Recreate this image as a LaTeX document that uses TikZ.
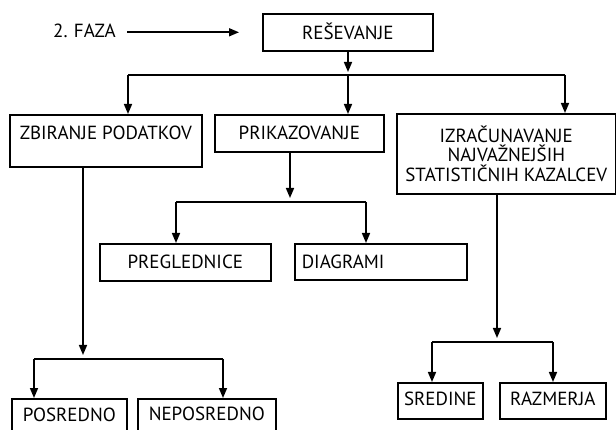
\documentclass[tikz,border=0pt]{standalone}
\usepackage{fontspec}
\setmainfont{PT Sans}
\usetikzlibrary{arrows.meta}
\tikzset{
  txt/.style={font=\fontsize{19}{19.5}\selectfont},
  box/.style={txt, draw, line width=1.6pt, inner sep=0pt, anchor=north west},
  arr/.style={-{Triangle[width=8pt,length=10pt]}, line width=1.6pt},
  ln/.style={line width=1.6pt},
}
\begin{document}
\begin{tikzpicture}[x=1pt,y=-1pt]
\useasboundingbox (0,0) rectangle (616,430);
% text and boxes
\node[txt, inner sep=0pt, text width=64pt, align=left, anchor=base west] (faza) at (53,37.5) {2.~FAZA};
\node[box, minimum width=170pt, text height=25.5pt, text depth=11.5pt] (res) at (262,13) {REŠEVANJE};
\node[box, minimum width=192pt, text height=25pt, text depth=27pt] (zb) at (9,114) {ZBIRANJE PODATKOV};
\node[box, minimum width=169pt, text height=25pt, text depth=12pt] (prik) at (214,114) {PRIKAZOVANJE};
\node[box, minimum width=219pt, minimum height=80pt, align=center] (izr) at (396,113) {IZRAČUNAVANJE\\NAJVAŽNEJŠIH\\STATISTIČNIH KAZALCEV};
\node[box, minimum width=171pt, text height=25pt, text depth=12pt] (pregl) at (99,243) {PREGLEDNICE};
\node[box, text width=158pt, inner xsep=7pt, align=left, text height=25pt, text depth=11pt] (diag) at (294,243) {DIAGRAMI};
\node[box, minimum width=115pt, text height=23pt, text depth=24pt] (posr) at (11,398) {POSREDNO};
\node[box, minimum width=138pt, text height=22pt, text depth=25pt] (nepo) at (137,398) {NEPOSREDNO};
\node[box, minimum width=85pt, text height=22.5pt, text depth=13.5pt] (sred) at (397,382) {SREDINE};
\node[box, minimum width=106pt, text height=22.5pt, text depth=13.5pt] (razm) at (499,382) {RAZMERJA};
% phase arrow
\draw[arr, shorten <=10pt, shorten >=23pt] (faza.east |- res.west) -- (res.west);
% level 1
\coordinate (b1L) at (128,75);
\coordinate (b1R) at (565,75);
\coordinate (b1M) at (348,72);
\draw[arr] (res.south -| b1M) -- (b1M);
\draw[ln] (b1L) -- (b1R);
\draw[arr] (b1M |- b1L) -- (b1M |- prik.north);
\draw[arr] (b1L) -- (b1L |- zb.north);
\draw[arr] (b1R) -- (b1R |- izr.north);
% zbiranje
\coordinate (b2M) at (83,355);
\coordinate (b2L) at (34,359);
\coordinate (b2R) at (223,359);
\draw[arr] (zb.south -| b2M) -- (b2M);
\draw[ln] (b2L) -- (b2R);
\draw[arr] (b2L) -- (b2L |- posr.north);
\draw[arr] (b2R) -- (b2R |- nepo.north);
% prikazovanje
\coordinate (b3M) at (290,198);
\coordinate (b3L) at (176,202);
\coordinate (b3R) at (366,202);
\draw[arr] (prik.south -| b3M) -- (b3M);
\draw[ln] (b3L) -- (b3R);
\draw[arr] (b3L) -- (b3L |- pregl.north);
\draw[arr] (b3R) -- (b3R |- diag.north);
% izracunavanje
\coordinate (b4M) at (497,338);
\coordinate (b4L) at (432,342);
\coordinate (b4R) at (553,342);
\draw[arr] (izr.south -| b4M) -- (b4M);
\draw[ln] (b4L) -- (b4R);
\draw[arr] (b4L) -- (b4L |- sred.north);
\draw[arr] (b4R) -- (b4R |- razm.north);
\end{tikzpicture}
\end{document}
